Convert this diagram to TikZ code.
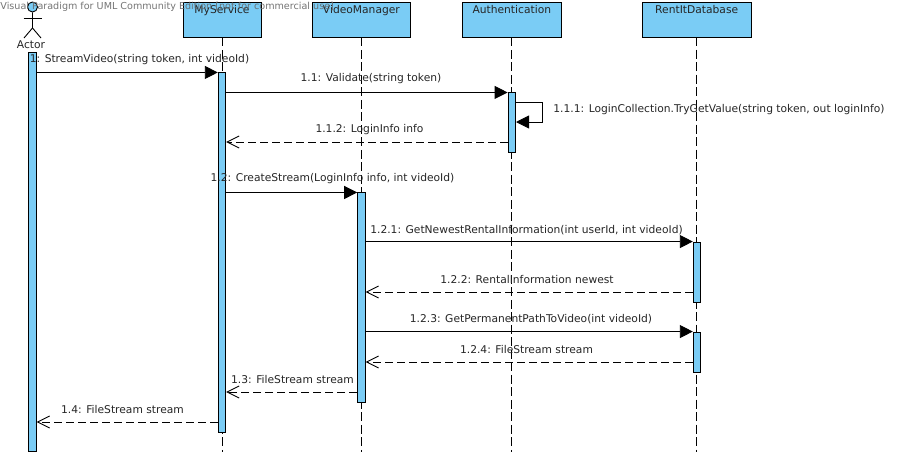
\documentclass[tikz,border=0pt]{standalone}
\usepackage{fontspec}
\setmainfont{DejaVu Sans}
\usetikzlibrary{positioning, arrows.meta}
\definecolor{barblue}{HTML}{7ACCF5}

\begin{document}
\begin{tikzpicture}[x=1pt, y=-1pt, line width=0.9pt,
head/.style={draw, fill=barblue, inner xsep=0pt, inner ysep=3pt, minimum height=35pt, text height=8pt, text depth=21pt, font=\fontsize{10.7}{12}\selectfont, text=black!85},
bar/.style={draw, fill=barblue, inner sep=0pt, minimum width=7.5pt},
msg/.style={inner sep=0pt, font=\fontsize{10.7}{12}\selectfont, text=black!85},
lifeline/.style={dash pattern=on 9pt off 3.5pt},
call/.style={-{Triangle[length=13pt, width=13pt]}},
reply/.style={dash pattern=on 8pt off 4pt, -{Straight Barb[length=12pt, width=12pt]}}]
    \useasboundingbox (0,0) rectangle (900,456);
    \fill[white] (0,0) rectangle (900,456);

    \node[head, minimum width=78pt] (myService) at (222,19.5) {MyService};
    \node[head, minimum width=98pt] (videoManager) [right=50.5pt of myService] {VideoManager};
    \node[head, minimum width=99pt] (authentication) [right=51pt of videoManager] {Authentication};
    \node[head, minimum width=109pt] (rentItDatabase) [right=80pt of authentication] {RentItDatabase};

    \coordinate (bottom) at (0,452);
    \coordinate (rentTop) at (696.5,37);
    \draw[lifeline] (myService) -- (myService |- bottom);
    \draw[lifeline] (videoManager) -- (videoManager |- bottom);
    \draw[lifeline] (authentication) -- (authentication |- bottom);
    \draw[lifeline] (rentTop) -- (rentTop |- bottom);

    % actor
    \node[draw, circle, fill=barblue, inner sep=0pt, minimum size=10pt] (actorHead) at (32.5,7) {};
    \draw (actorHead.south) -- (32.5,28) -- (24,38);
    \draw (32.5,28) -- (41,38);
    \draw (23.5,18) -- (41.5,18);
    \node[msg] (actor) at (31,45) {Actor};

    \node[bar, minimum height=399pt] (barActor) at (32.5,251.5) {};
    \node[bar, minimum height=360pt] (barMyService) [below=35pt of myService] {};
    \node[bar, minimum height=60pt] (barAuth) [below=55pt of authentication] {};
    \node[bar, minimum height=210pt] (barVideo) [below=155pt of videoManager] {};
    \node[bar, minimum height=60pt] (barRentA) at (697,272) {};
    \node[bar, minimum height=40pt] (barRentB) at (697,352) {};

    \coordinate (selfTop) at (542.5,102);
    \coordinate (selfBottom) at (542.5,122);
    \coordinate (yLogin) at (0,142);
    \coordinate (yNewest) at (0,292);
    \coordinate (yStreamA) at (0,362);
    \coordinate (yStreamB) at (0,392);
    \coordinate (yStreamC) at (0,422);

    \draw[call] (barActor.east |- barMyService.north) -- (barMyService.north west);
    \draw[call] (barMyService.east |- barAuth.north) -- (barAuth.north west);
    \draw[call] (barAuth.east |- selfTop) -- (selfTop) -- (selfBottom) -- (barAuth.east |- selfBottom);
    \draw[reply] (barAuth.west |- yLogin) -- (barMyService.east |- yLogin);
    \draw[call] (barMyService.east |- barVideo.north) -- (barVideo.north west);
    \draw[call] (barVideo.east |- barRentA.north) -- (barRentA.north west);
    \draw[reply] (barRentA.west |- yNewest) -- (barVideo.east |- yNewest);
    \draw[call] (barVideo.east |- barRentB.north) -- (barRentB.north west);
    \draw[reply] (barRentB.west |- yStreamA) -- (barVideo.east |- yStreamA);
    \draw[reply] (barVideo.west |- yStreamB) -- (barMyService.east |- yStreamB);
    \draw[reply] (barMyService.west |- yStreamC) -- (barActor.east |- yStreamC);

    \node[msg] (lblStream) at (139.5,60) {1: StreamVideo(string token, int videoId)};
    \node[msg] (lblValidate) at (371,79) {1.1: Validate(string token)};
    \node[msg] (lblTryGet) at (719,110) {1.1.1: LoginCollection.TryGetValue(string token, out loginInfo)};
    \node[msg] (lblLogin) at (369.5,130) {1.1.2: LoginInfo info};
    \node[msg] (lblCreate) at (332.5,179) {1.2: CreateStream(LoginInfo info, int videoId)};
    \node[msg] (lblRental) at (526.5,230) {1.2.1: GetNewestRentalInformation(int userId, int videoId)};
    \node[msg] (lblNewest) at (527,280) {1.2.2: RentalInformation newest};
    \node[msg] (lblPath) at (531,319) {1.2.3: GetPermanentPathToVideo(int videoId)};
    \node[msg] (lblStreamA) at (526.5,350) {1.2.4: FileStream stream};
    \node[msg] (lblStreamB) at (292.5,380) {1.3: FileStream stream};
    \node[msg] (lblStreamC) at (122.5,410) {1.4: FileStream stream};

    \node[msg, anchor=west, font=\fontsize{9.6}{11}\selectfont, text=black!60, opacity=0.9] (watermark) at (0,7) {Visual Paradigm for UML Community Edition [not for commercial use]};
\end{tikzpicture}
\end{document}
